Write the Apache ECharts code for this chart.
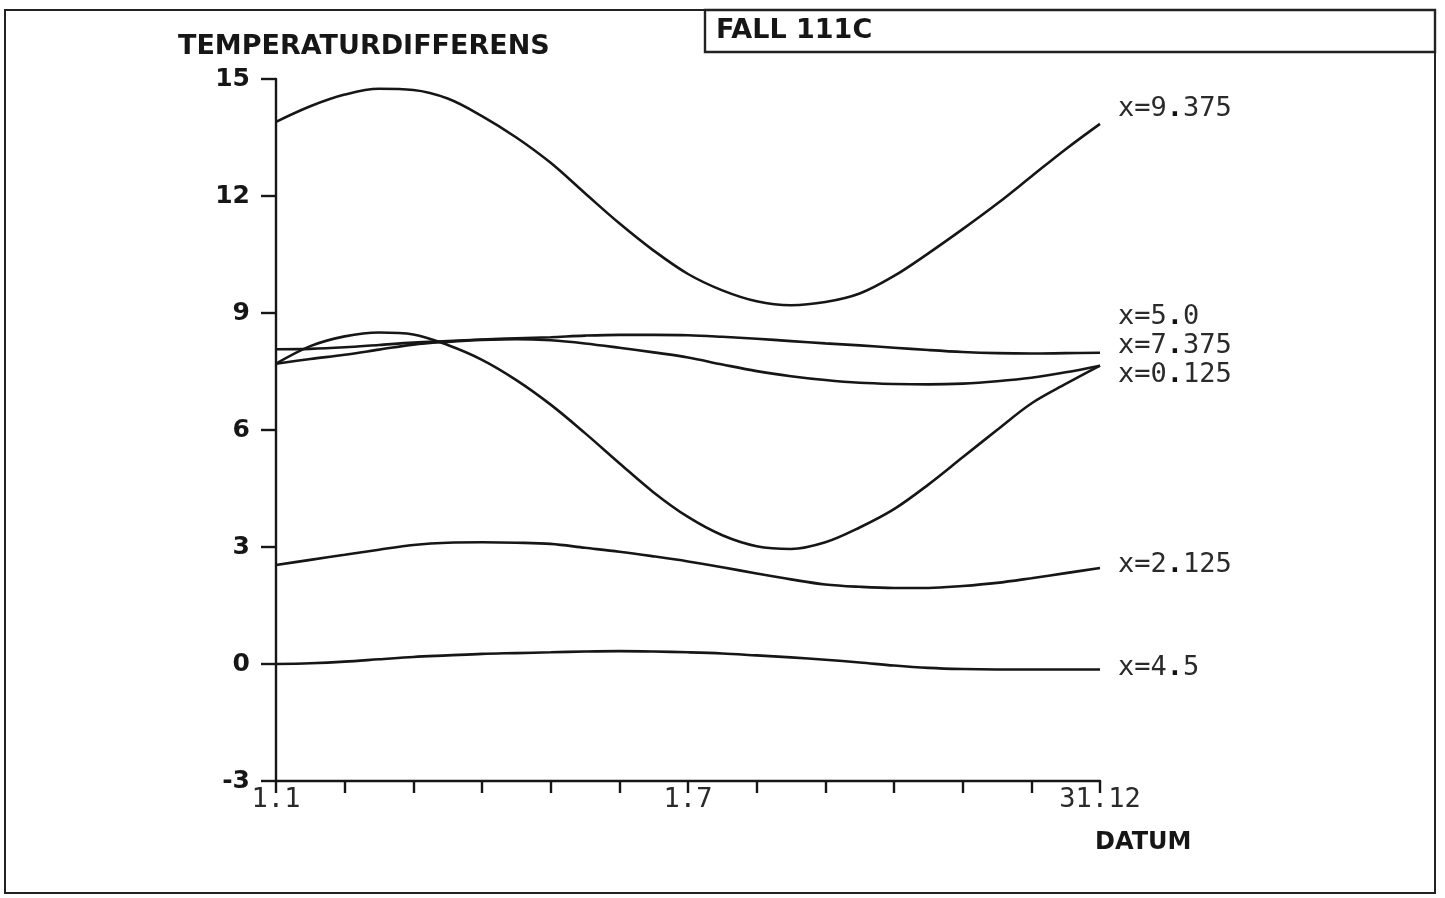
<!DOCTYPE html>
<html>
<head>
<meta charset="utf-8">
<title>FALL 111C</title>
<script src="https://cdn.jsdelivr.net/npm/echarts@6/dist/echarts.min.js"></script>
<style>
  html, body { margin: 0; padding: 0; background: #ffffff; }
  #chart { width: 1445px; height: 898px; }
</style>
</head>
<body>
<div id="chart"></div>
<script>
// Time axis in months from 1 January (0) to 31 December (12), sampled every half month
const months = [0, 0.5, 1, 1.5, 2, 2.5, 3, 3.5, 4, 4.5, 5, 5.5, 6,
                6.5, 7, 7.5, 8, 8.5, 9, 9.5, 10, 10.5, 11, 11.5, 12];

// Temperature difference at each position x
const tdX9375 = [13.9, 14.3, 14.6, 14.75, 14.72, 14.5, 14.05, 13.5, 12.85, 12.07, 11.3, 10.6, 10.0,
                 9.58, 9.3, 9.2, 9.28, 9.5, 9.95, 10.53, 11.15, 11.8, 12.5, 13.2, 13.85];
const tdX50    = [8.07, 8.08, 8.12, 8.18, 8.24, 8.28, 8.32, 8.35, 8.38, 8.42, 8.44, 8.44, 8.43,
                  8.39, 8.34, 8.28, 8.22, 8.17, 8.11, 8.05, 8.0, 7.97, 7.96, 7.97, 7.98];
const tdX7375  = [7.7, 7.82, 7.93, 8.06, 8.19, 8.26, 8.31, 8.33, 8.3, 8.22, 8.11, 7.99, 7.86,
                  7.68, 7.51, 7.38, 7.28, 7.21, 7.18, 7.17, 7.19, 7.25, 7.34, 7.48, 7.65];
const tdX0125  = [7.7, 8.15, 8.4, 8.5, 8.45, 8.18, 7.8, 7.28, 6.65, 5.92, 5.15, 4.4, 3.77,
                  3.3, 3.02, 2.95, 3.12, 3.5, 3.97, 4.6, 5.3, 6.0, 6.68, 7.18, 7.65];
const tdX2125  = [2.54, 2.67, 2.8, 2.93, 3.05, 3.11, 3.12, 3.11, 3.08, 2.98, 2.88, 2.76, 2.63,
                  2.48, 2.32, 2.17, 2.04, 1.98, 1.95, 1.95, 2.0, 2.08, 2.2, 2.33, 2.46];
const tdX45    = [0.0, 0.02, 0.06, 0.12, 0.18, 0.22, 0.26, 0.28, 0.3, 0.32, 0.33, 0.32, 0.3,
                  0.27, 0.22, 0.17, 0.11, 0.04, -0.04, -0.1, -0.13, -0.14, -0.14, -0.14, -0.14];

const curveNames  = ['x=9.375', 'x=5.0', 'x=7.375', 'x=0.125', 'x=2.125', 'x=4.5'];
const curveValues = [tdX9375, tdX50, tdX7375, tdX0125, tdX2125, tdX45];
// vertical shift of each end label so the stacked labels don't collide
const labelShift  = [-15, -36, -20, 9, -3, -1];

// Tick labels of the date axis (month index -> date text)
const dateTickMonths = [0, 6, 12];
const dateTickLabels = ['1.1', '1.7', '31.12'];

// Value axis range
const yMin = -3, yMax = 15, yStep = 3;

const INK = '#161616';
const MONO = '"DejaVu Sans Mono", "Liberation Mono", monospace';
const SANS = '"DejaVu Sans", "Liberation Sans", sans-serif';

const chart = echarts.init(document.getElementById('chart'), null, { renderer: 'canvas' });

const series = curveNames.map((name, i) => {
  const values = curveValues[i];
  const lastIdx = values.length - 1;
  return {
    name: name,
    type: 'line',
    data: months.map((m, k) => [m, values[k]]),
    smooth: 0.35,
    showSymbol: false,
    silent: true,
    lineStyle: { color: INK, width: 2.6 },
    markPoint: {
      symbol: 'circle',
      symbolSize: 0,
      silent: true,
      data: [{ coord: [months[lastIdx], values[lastIdx]] }],
      label: {
        show: true,
        position: 'right',
        distance: 0,
        offset: [18, labelShift[i]],
        formatter: () => name.replace('.', '{d|.}'),
        color: '#2a2a2a',
        fontFamily: MONO,
        fontSize: 27,
        rich: {
          d: { fontFamily: MONO, fontSize: 27, fontWeight: 'bold', color: '#111' }
        }
      }
    },
    animation: false
  };
});

const option = {
  backgroundColor: '#ffffff',
  animation: false,
  grid: { left: 276, right: 345, top: 79, bottom: 117, containLabel: false },
  xAxis: {
    type: 'value',
    min: 0,
    max: 12,
    interval: 1,
    splitLine: { show: false },
    axisLine: { show: true, onZero: false, lineStyle: { color: INK, width: 2.4 } },
    axisTick: { show: true, inside: false, length: 12, lineStyle: { color: INK, width: 2.4 } },
    axisLabel: {
      show: true,
      margin: 5,
      color: '#2a2a2a',
      fontFamily: MONO,
      fontSize: 27,
      showMinLabel: true,
      showMaxLabel: true,
      formatter: (v) => {
        const idx = dateTickMonths.indexOf(v);
        return idx >= 0 ? dateTickLabels[idx] : '';
      }
    }
  },
  yAxis: {
    type: 'value',
    min: yMin,
    max: yMax,
    interval: yStep,
    splitLine: { show: false },
    axisLine: { show: true, onZero: false, lineStyle: { color: INK, width: 2.4 } },
    axisTick: { show: true, inside: false, length: 15, lineStyle: { color: INK, width: 2.4 } },
    axisLabel: {
      show: true,
      margin: 26,
      color: INK,
      fontFamily: SANS,
      fontWeight: 'bold',
      fontSize: 25
    }
  },
  graphic: [
    // outer frame of the sheet
    {
      type: 'rect', silent: true, z: 0,
      shape: { x: 5, y: 10, width: 1430, height: 883 },
      style: { fill: 'none', stroke: '#222', lineWidth: 2 }
    },
    // case title box
    {
      type: 'rect', silent: true, z: 0,
      shape: { x: 705, y: 10, width: 730, height: 42 },
      style: { fill: 'none', stroke: '#222', lineWidth: 2.4 }
    },
    {
      type: 'text', silent: true, x: 716, y: 31,
      style: { text: 'FALL 111C', fill: INK, font: 'bold 27px ' + SANS, verticalAlign: 'middle' }
    },
    {
      type: 'text', silent: true, x: 178, y: 47,
      style: { text: 'TEMPERATURDIFFERENS', fill: INK, font: 'bold 27px ' + SANS, verticalAlign: 'middle' }
    },
    {
      type: 'text', silent: true, x: 1095, y: 843,
      style: { text: 'DATUM', fill: INK, font: 'bold 24px ' + SANS, verticalAlign: 'middle' }
    }
  ],
  series: series
};

chart.setOption(option);
</script>
</body>
</html>
